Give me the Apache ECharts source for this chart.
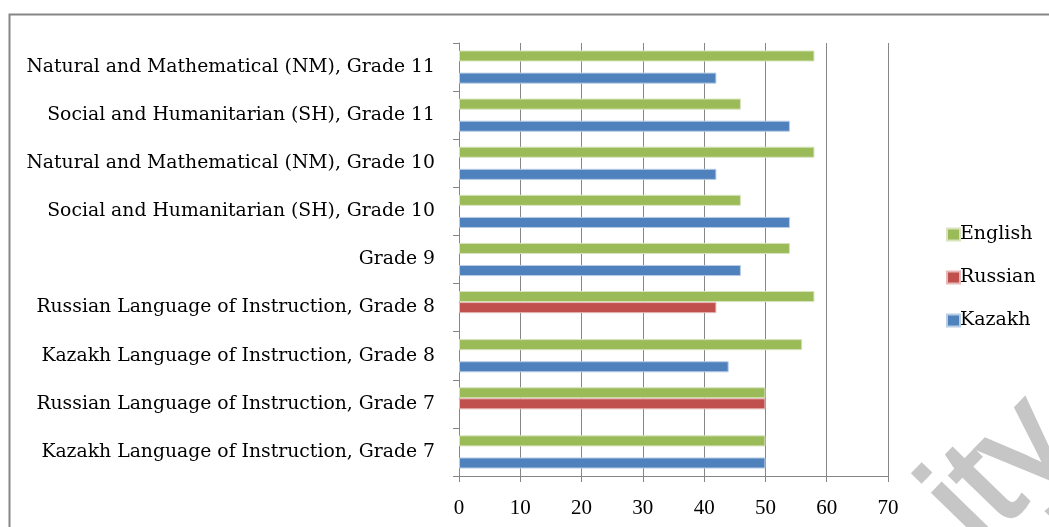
<!DOCTYPE html>
<html>
<head>
<meta charset="utf-8">
<script src="https://cdn.jsdelivr.net/npm/echarts@6/dist/echarts.min.js"></script>
<style>
html,body{margin:0;padding:0;background:#fff;}
#chart{width:1049px;height:527px;}
</style>
</head>
<body>
<div id="chart"></div>
<script>
var categories = [
  'Kazakh Language of Instruction, Grade 7',
  'Russian Language of Instruction, Grade 7',
  'Kazakh Language of Instruction, Grade 8',
  'Russian Language of Instruction, Grade 8',
  'Grade 9',
  'Social and Humanitarian (SH), Grade 10',
  'Natural and Mathematical (NM), Grade 10',
  'Social and Humanitarian (SH), Grade 11',
  'Natural and Mathematical (NM), Grade 11'
];
var kazakh  = [50, '-', 44, '-', 46, 54, 42, 54, 42];
var russian = ['-', 50, '-', 42, '-', '-', '-', '-', '-'];
var english = [50, 50, 56, 58, 54, 46, 58, 46, 58];
var xTicks = [0, 10, 20, 30, 40, 50, 60, 70];

var FONT = '"Liberation Serif", "Times New Roman", serif';
var WFONT = '"DejaVu Serif", serif';
var chart = echarts.init(document.getElementById('chart'));
function barSeries(name, data, color, border) {
  return {
    name: name, type: 'bar', data: data,
    barGap: '0%', barCategoryGap: '31%',
    itemStyle: { color: color, borderColor: border, borderWidth: 1 },
    emphasis: { disabled: true }
  };
}
chart.setOption({
  animation: false,
  textStyle: { fontFamily: FONT },
  graphic: [{
    type: 'rect', silent: true,
    shape: { x: 9.5, y: 14.5, width: 1060, height: 540 },
    style: { fill: 'none', stroke: '#868686', lineWidth: 2 }
  }, {
    type: 'text', silent: true, z: -1,
    x: 1003, y: 574, rotation: 0.8,
    style: {
      text: 'ity', fill: '#c6c6c6',
      font: '142px "Liberation Sans", Arial, sans-serif',
      align: 'left', verticalAlign: 'bottom',
      stroke: '#c6c6c6', lineWidth: 3
    }
  }],
  grid: { left: 459, right: 161, top: 43, bottom: 51, containLabel: false },
  legend: {
    orient: 'vertical', left: 941, top: 220,
    data: ['English', 'Russian', 'Kazakh'],
    itemWidth: 13, itemHeight: 12, itemGap: 24,
    icon: 'rect',
    textStyle: { fontFamily: WFONT, fontSize: 19, color: '#000', padding: [0, 0, 0, -5] }
  },
  xAxis: {
    type: 'value', min: 0, max: 70, interval: 10,
    axisLine: { show: true, lineStyle: { color: '#868686', width: 1 } },
    axisTick: { show: true, length: 6, lineStyle: { color: '#868686' } },
    splitLine: { show: true, lineStyle: { color: '#868686', width: 1 } },
    axisLabel: {
      fontFamily: FONT, fontSize: 21, color: '#000', margin: 22,
      formatter: function (v) { return xTicks.indexOf(v) >= 0 ? String(v) : ''; }
    }
  },
  yAxis: {
    type: 'category', data: categories,
    axisLine: { show: true, lineStyle: { color: '#868686', width: 1 } },
    axisTick: { show: true, length: 6, lineStyle: { color: '#868686' } },
    axisLabel: { fontFamily: WFONT, fontSize: 18.8, color: '#000', margin: 24 }
  },
  series: [
    barSeries('English', english, '#9BBB59', '#d7e4bd'),
    barSeries('Russian', russian, '#C0504D', '#e6b9b8'),
    barSeries('Kazakh', kazakh, '#4F81BD', '#b9cde5')
  ]
});
</script>
</body>
</html>
